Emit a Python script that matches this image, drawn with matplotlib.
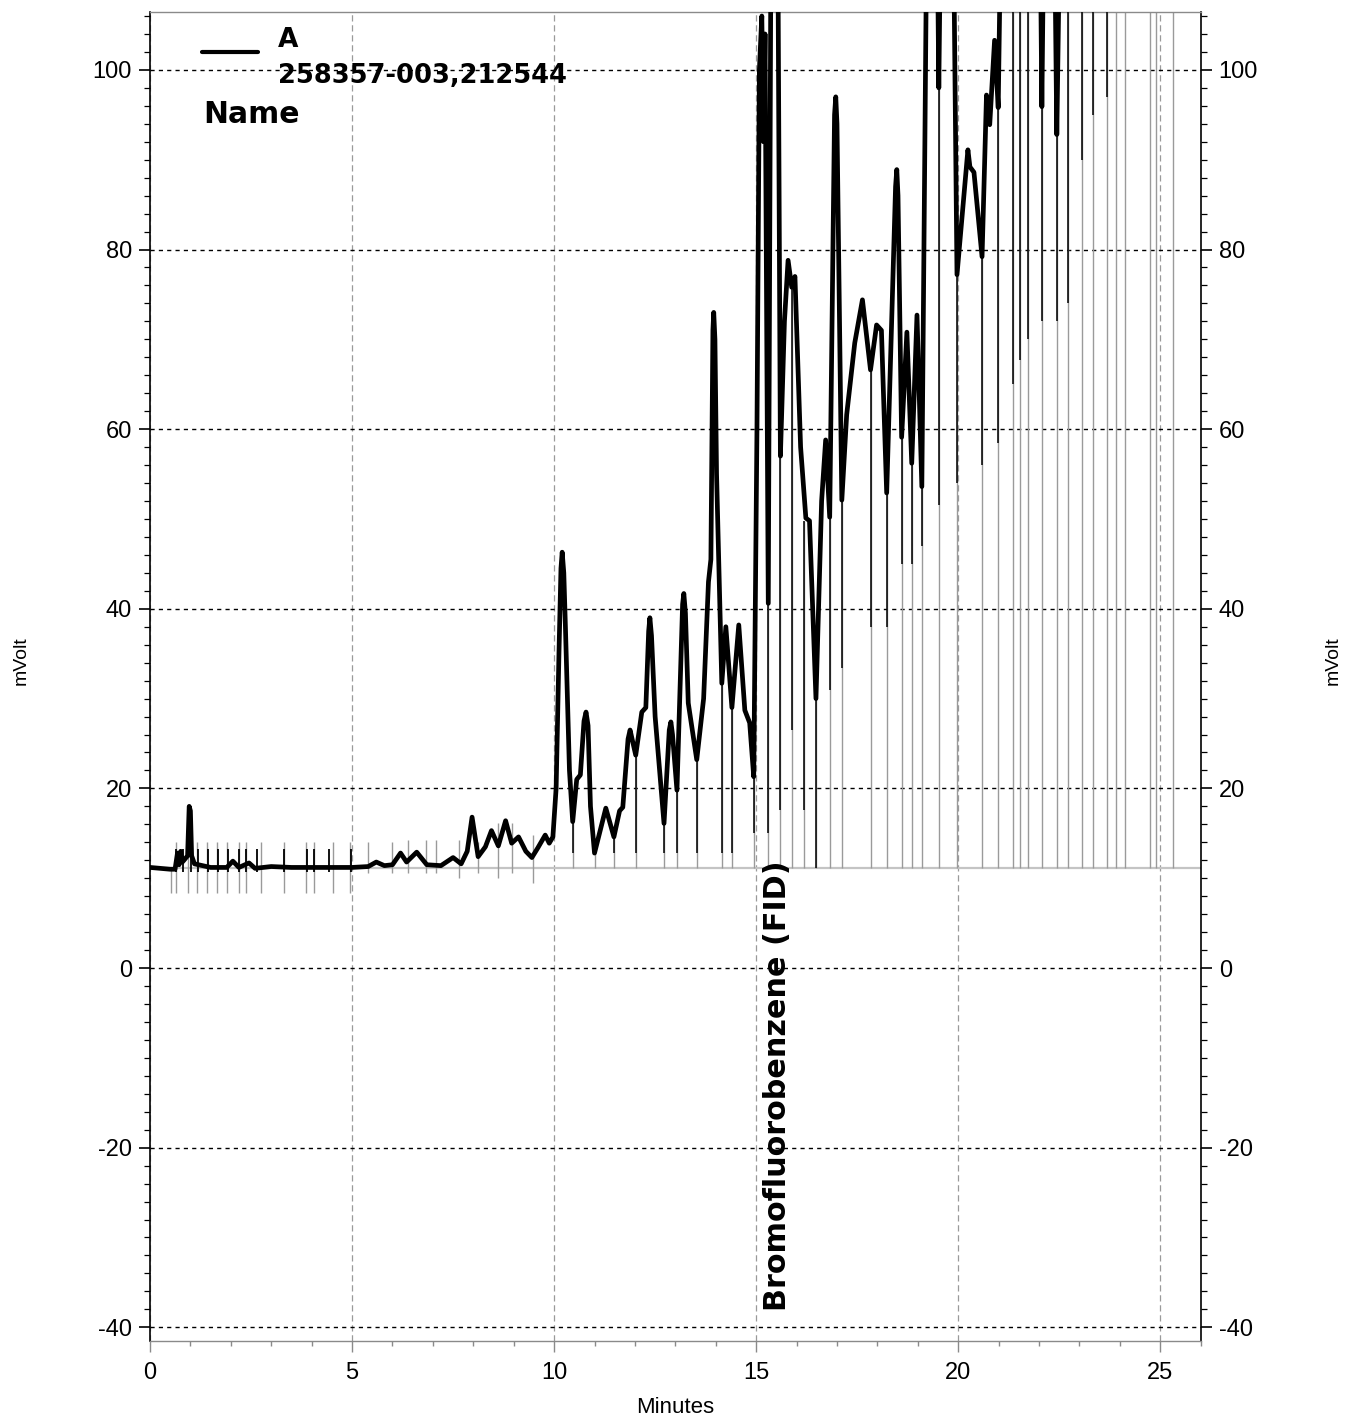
import numpy as np
import matplotlib.pyplot as plt
from matplotlib.ticker import MultipleLocator

plt.rcParams['font.family'] = ['Liberation Sans', 'DejaVu Sans']
plt.rcParams['axes.unicode_minus'] = False

# chromatogram trace, minutes vs mVolt (130 = off scale, clipped at top)
time_min = [0.0, 0.5, 0.62, 0.68, 0.72, 0.76, 0.80, 0.84, 0.93, 0.97, 1.0, 1.03, 1.1,
            1.5, 1.9, 2.05, 2.2, 2.45, 2.6, 3.0, 3.5, 4.0, 5.0, 5.4, 5.6, 5.8, 6.0,
            6.2, 6.35, 6.6, 6.85, 7.2, 7.5, 7.7, 7.85, 7.97, 8.12, 8.3, 8.45, 8.62,
            8.8, 8.95, 9.12, 9.3, 9.45, 9.6, 9.78, 9.88, 9.97, 10.05, 10.12, 10.17, 10.2,
            10.24, 10.28, 10.38, 10.46, 10.56, 10.65, 10.74, 10.79, 10.84, 10.9, 11.0,
            11.15, 11.28, 11.48, 11.62, 11.7, 11.83, 11.88, 12.02, 12.17, 12.27, 12.34,
            12.37, 12.41, 12.5, 12.72, 12.85, 12.89, 12.93, 13.04, 13.18, 13.21, 13.25,
            13.32, 13.53, 13.7, 13.82, 13.88, 13.93, 13.95, 13.98, 14.02, 14.15, 14.25,
            14.4, 14.57, 14.72, 14.84, 14.94, 15.02, 15.08, 15.14, 15.18, 15.22, 15.3,
            15.38, 15.52, 15.6, 15.7, 15.79, 15.88, 15.96, 16.1, 16.23, 16.32, 16.48,
            16.62, 16.72, 16.82, 16.94, 16.97, 17.0, 17.12, 17.24, 17.44, 17.63, 17.83,
            17.98, 18.1, 18.23, 18.45, 18.48, 18.51, 18.6, 18.73, 18.85, 18.98, 19.1,
            19.25, 19.45, 19.52, 19.6, 19.85, 19.97, 20.24, 20.29, 20.39, 20.59, 20.7,
            20.78, 20.9, 20.99, 21.1, 22.0, 22.07, 22.15, 22.35, 22.44, 22.56, 26.0]
signal_mv = [11.2, 11.0, 11.0, 12.8, 11.5, 13.0, 11.8, 12.0, 12.5, 18.0, 17.5, 12.5, 11.6,
             11.2, 11.2, 11.9, 11.2, 11.7, 11.1, 11.3, 11.2, 11.2, 11.2, 11.3, 11.8, 11.4, 11.5,
             12.8, 11.8, 12.9, 11.5, 11.4, 12.3, 11.6, 13.0, 16.8, 12.4, 13.5, 15.3, 13.6,
             16.4, 13.9, 14.6, 13.0, 12.3, 13.4, 14.8, 13.9, 14.6, 20.0, 35.0, 44.5, 46.3,
             44.0, 38.0, 22.0, 16.3, 21.0, 21.5, 27.5, 28.5, 27.0, 18.0, 12.8,
             15.5, 17.8, 14.6, 17.5, 17.9, 25.5, 26.5, 23.7, 28.5, 29.0, 37.5,
             39.0, 37.0, 28.0, 16.1, 26.5, 27.4, 26.0, 19.8, 40.5, 41.7, 39.5,
             29.5, 23.2, 30.0, 43.0, 45.5, 71.0, 73.0, 70.0, 55.0, 31.7, 38.0,
             29.0, 38.2, 28.7, 27.3, 21.3, 60.0, 100.0, 106.0, 92.0, 104.0, 40.6,
             130, 130, 57.0, 72.0, 78.8, 75.8, 77.0, 58.0, 50.1, 49.8, 30.0,
             52.0, 58.8, 50.2, 95.0, 97.0, 94.0, 52.1, 61.6, 69.6, 74.4, 66.6,
             71.6, 71.0, 52.9, 87.0, 88.9, 86.0, 59.1, 70.8, 56.2, 72.7, 53.6,
             130, 130, 98.0, 130, 130, 77.2, 91.1, 89.2, 88.6, 79.2, 97.2,
             93.9, 103.3, 95.8, 130, 130, 95.9, 130, 130, 92.8, 130, 130]

baseline_mv = 11.1

# small integration ticks before 10 min
early_gray_t = [0.52, 0.64, 0.94, 1.17, 1.42, 1.66, 1.91, 2.21, 2.38, 2.74, 3.31, 3.87,
                4.06, 4.53, 4.96, 5.39, 5.98, 6.38, 6.83, 7.08, 7.64, 8.11, 8.61, 8.96, 9.48]
early_gray_low = [8.4, 8.4, 8.4, 8.4, 8.4, 8.4, 8.4, 8.4, 8.4, 8.4, 8.4, 8.4,
                  8.4, 8.4, 8.4, 10.6, 10.6, 10.6, 10.6, 10.6, 10.0, 10.6, 10.0, 10.6, 9.5]
early_gray_high = [11.0, 14.0, 14.0, 14.0, 14.0, 14.0, 14.0, 14.0, 14.0, 14.0, 14.0, 14.0,
                   14.0, 14.0, 14.0, 14.0, 14.0, 14.2, 14.2, 14.2, 14.2, 14.0, 16.1, 16.1, 14.8]
early_black_t = [0.64, 0.82, 1.01, 1.19, 1.43, 1.68, 1.93, 2.2, 2.38, 2.65, 3.32, 3.88,
                 4.06, 4.43, 4.97]

# peak boundary markers (valley value and end of the dark part)
marker_t = [10.46, 11.0, 11.48, 12.02, 12.72, 13.04, 13.53, 14.15, 14.4, 14.94, 15.3,
            15.6, 15.88, 16.18, 16.48, 16.83, 17.12, 17.85, 18.23, 18.6, 18.85, 19.1,
            19.52, 19.97, 20.59, 20.99, 21.36, 21.53, 21.73, 22.07, 22.44, 22.71, 23.06,
            23.33, 23.68, 23.9, 24.12, 24.74, 24.89, 25.31]
marker_top = [16.3, 12.8, 14.6, 23.7, 16.1, 19.8, 23.2, 31.7, 29.0, 21.3, 40.6,
              57.0, 75.8, 49.8, 30.0, 50.2, 52.1, 66.6, 52.9, 59.1, 56.2, 53.6,
              98.0, 77.2, 79.2, 95.8, 130, 130, 130, 95.9, 92.8, 130, 130,
              130, 130, 130, 130, 130, 130, 130]
marker_dark_end = [12.8, 12.8, 12.8, 12.8, 12.8, 12.8, 12.8, 12.8, 12.8, 15.0, 15.0,
                   17.6, 26.5, 17.6, 11.1, 31.0, 33.4, 38.0, 38.0, 45.0, 45.0, 47.0,
                   51.6, 54.0, 56.0, 58.5, 65.0, 67.7, 70.0, 72.0, 72.0, 74.0, 90.0,
                   95.0, 97.0, 130, 130, 130, 130, 130]

fig = plt.figure(figsize=(13.55, 14.23), dpi=100)
ax = fig.add_axes([0.1107, 0.0578, 0.7754, 0.9341])
ax.set_xlim(0, 26)
ax.set_ylim(-41.5, 106.5)

ax.xaxis.set_major_locator(MultipleLocator(5))
ax.xaxis.set_minor_locator(MultipleLocator(1))
ax.yaxis.set_major_locator(MultipleLocator(20))
ax.yaxis.set_minor_locator(MultipleLocator(2))

ax.set_axisbelow(True)
ax.grid(axis='y', which='major', color='black', ls=(0, (3, 3)), lw=1.0)
ax.grid(axis='x', which='major', color='#9a9a9a', ls=(0, (5, 3)), lw=0.9)

# baseline
ax.axhline(baseline_mv, color='#c4c4c4', lw=1.6, zorder=1)

# integration ticks
ax.vlines(early_gray_t, early_gray_low, early_gray_high, colors='#9a9a9a', lw=1.0, zorder=2)
ax.vlines(early_black_t, 10.7, 13.2, colors='black', lw=1.3, zorder=3)
ax.vlines(marker_t, baseline_mv, marker_top, colors='#9a9a9a', lw=1.0, zorder=2)
tops = np.array(marker_top)
ends = np.array(marker_dark_end)
dark = ends < tops
ax.vlines(np.array(marker_t)[dark], ends[dark], tops[dark], colors='black', lw=1.1, zorder=3)

# trace
ax.plot(time_min, signal_mv, color='black', lw=3.4, solid_joinstyle='round', zorder=4)

# axes styling
for side in ('left', 'right'):
    ax.spines[side].set_color('black')
    ax.spines[side].set_linewidth(1.2)
for side in ('top', 'bottom'):
    ax.spines[side].set_color('#8a8a8a')
    ax.spines[side].set_linewidth(1.0)

ax.tick_params(axis='y', which='both', direction='out', left=True, right=True,
               labelleft=True, labelright=True, colors='black', labelsize=17, pad=5)
ax.tick_params(axis='y', which='major', length=8, width=1.2)
ax.tick_params(axis='y', which='minor', length=4, width=0.9)
ax.tick_params(axis='x', which='both', direction='out', color='#8a8a8a',
               labelcolor='black', labelsize=17, pad=7)
ax.tick_params(axis='x', which='major', length=8, width=1.0)
ax.tick_params(axis='x', which='minor', length=3.5, width=1.0)

# legend block
ax.plot([0.0495, 0.1028], [0.9692, 0.9692], transform=ax.transAxes, color='black',
        lw=3.0, solid_capstyle='round', clip_on=False)
bold = ['DejaVu Sans']
ax.text(0.1218, 0.9735, 'A', transform=ax.transAxes, fontsize=19, fontweight='bold',
        family=bold, ha='left', va='baseline')
ax.text(0.1218, 0.9460, '258357-003,212544', transform=ax.transAxes, fontsize=18.5,
        fontweight='bold', family=bold, ha='left', va='baseline', zorder=6)
ax.text(0.0504, 0.9159, 'Name', transform=ax.transAxes, fontsize=21.5,
        fontweight='bold', family=bold, ha='left', va='baseline')

# peak annotation
ax.text(15.52, -38.2, 'Bromofluorobenzene (FID)', rotation=90, fontsize=21.8,
        fontweight='bold', family=bold, ha='center', va='bottom', zorder=6)

fig.text(0.0155, 0.536, 'mVolt', rotation=90, fontsize=14, ha='center', va='center')
fig.text(0.9838, 0.536, 'mVolt', rotation=90, fontsize=14, ha='center', va='center')
fig.text(0.498, 0.0112, 'Minutes', fontsize=16, ha='center', va='center')

fig.savefig('out.png', dpi=100)
